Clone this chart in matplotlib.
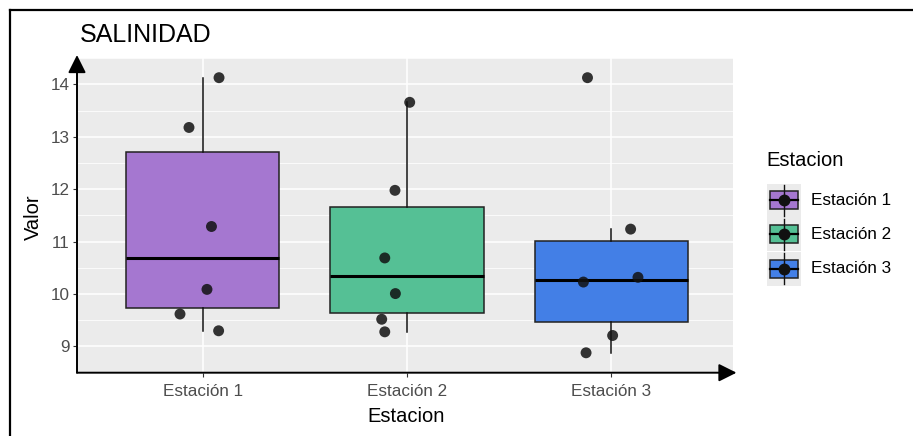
import matplotlib
matplotlib.use("Agg")
import matplotlib.pyplot as plt
from matplotlib.patches import Rectangle
from matplotlib.lines import Line2D

plt.rcParams["font.family"] = ["Liberation Sans", "DejaVu Sans"]

# ---- data -------------------------------------------------------------
estaciones = ["Estación 1", "Estación 2", "Estación 3"]
valores_e1 = [14.13, 13.18, 11.29, 10.09, 9.62, 9.30]
valores_e2 = [13.66, 11.98, 10.69, 10.01, 9.52, 9.28]
valores_e3 = [14.13, 11.24, 10.32, 10.23, 9.21, 8.88]
# horizontal jitter of each point (category units)
jitter_e1 = [0.080, -0.067, 0.043, 0.021, -0.111, 0.078]
jitter_e2 = [0.013, -0.059, -0.109, -0.057, -0.124, -0.109]
jitter_e3 = [-0.117, 0.094, 0.130, -0.137, 0.006, -0.124]
colores = ["#A577D0", "#55C095", "#437FE6"]
y_ticks = [9, 10, 11, 12, 13, 14]

valores = [valores_e1, valores_e2, valores_e3]
jitters = [jitter_e1, jitter_e2, jitter_e3]

W, H = 913, 436
fig = plt.figure(figsize=(W / 100, H / 100), dpi=100)


def fx(x):
    return x / W


def fy(y):
    return 1 - y / H


# panel
left, right, top, bottom = 77, 733, 58.3, 372.7
ax = fig.add_axes([fx(left), fy(bottom), fx(right - left), (bottom - top) / H])
ax.set_facecolor("#EBEBEB")
ax.set_xlim(0.385, 3.595)
ax.set_ylim(8.633, 14.408)

posiciones = [1, 2, 3]
bp = ax.boxplot(valores, positions=posiciones, widths=0.75, patch_artist=True,
                showfliers=False, whis=1.5, manage_ticks=False, zorder=2,
                boxprops=dict(edgecolor="#222222", linewidth=1.1),
                whiskerprops=dict(color="#111111", linewidth=1.1),
                capprops=dict(linewidth=0),
                medianprops=dict(color="black", linewidth=2.2))
for caja, c in zip(bp["boxes"], colores):
    caja.set_facecolor(c)

for pos, vals, jit in zip(posiciones, valores, jitters):
    ax.scatter([pos + j for j in jit], vals, s=62, color="#111111", alpha=0.85,
               edgecolors="none", zorder=3)

# grid
ax.set_yticks(y_ticks)
ax.set_yticks([t + 0.5 for t in [8] + y_ticks[:-1]] + [14.5], minor=True)
ax.set_xticks(posiciones)
ax.set_xticklabels(estaciones)
ax.grid(which="major", color="white", linewidth=1.1, zorder=0)
ax.grid(which="minor", axis="y", color="white", linewidth=0.55, zorder=0)
ax.set_axisbelow(True)
ax.tick_params(axis="both", which="major", colors="#333333", length=3, width=0.8,
               labelsize=12.3, labelcolor="#4D4D4D")
ax.tick_params(axis="x", pad=5)
ax.tick_params(axis="y", pad=2.5)
ax.tick_params(which="minor", length=0)
for s in ax.spines.values():
    s.set_visible(False)

# axis lines with arrow heads
flecha = dict(arrowstyle="-|>,head_length=0.4,head_width=0.2", color="black",
              lw=1.4, mutation_scale=27, shrinkA=0, shrinkB=0)
ax.annotate("", xy=(0, 1 + 3.3 / (bottom - top)), xytext=(0, 0),
            xycoords="axes fraction", textcoords="axes fraction",
            arrowprops=flecha, annotation_clip=False)
ax.annotate("", xy=(1 + 3.5 / (right - left), 0), xytext=(0, 0),
            xycoords="axes fraction", textcoords="axes fraction",
            arrowprops=flecha, annotation_clip=False)

# labels
fig.text(fx(80), fy(34.5), "SALINIDAD", fontsize=18, ha="left", va="center",
         color="black")
fig.text(fx(33.5), fy(217), "Valor", fontsize=14.5, rotation=90, ha="center",
         va="center", color="black")
fig.text(fx(406), fy(416), "Estacion", fontsize=14.5, ha="center", va="center",
         color="black")

# frame around the figure
fig.add_artist(Line2D([fx(10), fx(10)], [fy(10), fy(436)], color="black", lw=1.6))
fig.add_artist(Line2D([fx(10), fx(913)], [fy(10), fy(10)], color="black", lw=1.6))

# legend
fig.text(fx(766), fy(161), "Estacion", fontsize=14.5, ha="left", va="center",
         color="black")
k0, kw = 767, 34
for i, (nombre, c) in enumerate(zip(estaciones, colores)):
    ytop = 183.5 + i * kw
    fig.add_artist(Rectangle((fx(k0), fy(ytop + kw)), kw / W, kw / H,
                             transform=fig.transFigure, facecolor="#EBEBEB",
                             edgecolor="none"))
    cx, cy = k0 + kw / 2, ytop + kw / 2
    fig.add_artist(Line2D([fx(cx), fx(cx)], [fy(ytop + 1.5), fy(ytop + kw - 1.5)],
                          color="#111111", lw=1.0))
    fig.add_artist(Rectangle((fx(k0 + 3), fy(cy + 9)), (kw - 6) / W, 18 / H,
                             transform=fig.transFigure, facecolor=c,
                             edgecolor="#222222", lw=1.1))
    fig.add_artist(Line2D([fx(k0 + 3), fx(k0 + kw - 3)], [fy(cy), fy(cy)],
                          color="black", lw=1.6))
    fig.add_artist(Line2D([fx(cx)], [fy(cy)], marker="o", markersize=7.5,
                          color="#111111", linestyle="none"))
    fig.text(fx(811), fy(cy), nombre, fontsize=12.3, ha="left", va="center",
             color="black")

fig.savefig("out.png", dpi=100)
